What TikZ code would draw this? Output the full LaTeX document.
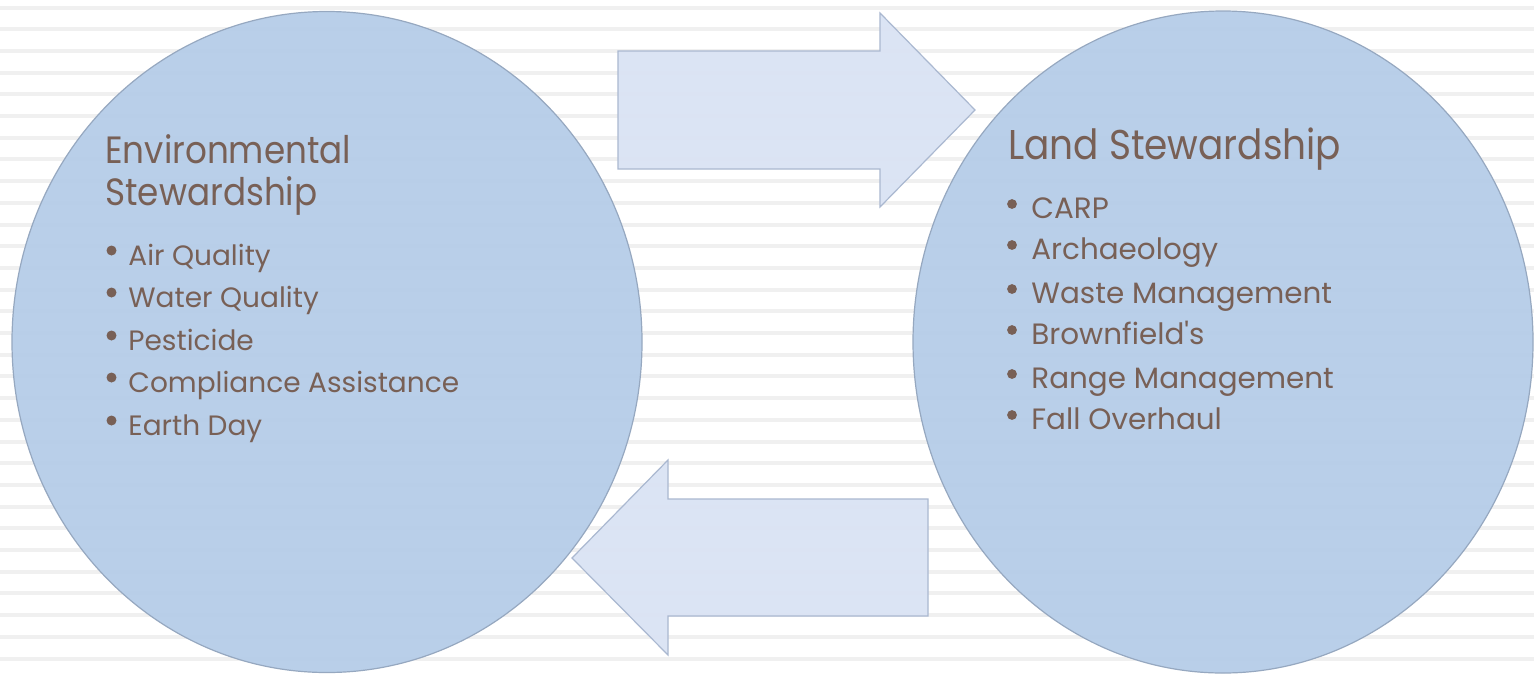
\documentclass[tikz,border=0pt]{standalone}
\usepackage{fontspec}
\setmainfont{Poppins}
\newfontfamily\headfont[FakeStretch=0.9]{Poppins}
\usetikzlibrary{shapes.geometric}
\definecolor{bgline}{RGB}{240,240,240}
\definecolor{circfill}{RGB}{180,204,232}
\definecolor{circdark}{RGB}{146,170,200}
\definecolor{circlight}{RGB}{206,226,248}
\definecolor{circedge}{RGB}{150,168,192}
\definecolor{arrfill}{RGB}{218,227,244}
\definecolor{arredge}{RGB}{170,184,208}
\definecolor{txt}{RGB}{120,96,86}
\pgfdeclareradialshading{rim}{\pgfpoint{0bp}{0bp}}{color(0bp)=(circfill); color(44bp)=(circfill); color(48.6bp)=(circdark); color(49.6bp)=(circlight); color(50bp)=(circlight)}
\tikzset{
  circ/.style={ellipse, inner sep=0pt, shade, shading=rim, draw=circedge, line width=0.6pt, fill opacity=0.93},
  blockarrow/.style={fill=arrfill, draw=arredge, line width=0.6pt, fill opacity=0.95, line join=miter},
  head/.style={anchor=base west, inner sep=0pt, text=txt},
  item/.style={anchor=base west, inner sep=0pt, text=txt},
  dot/.style={fill=txt},
}
\begin{document}
\begin{tikzpicture}[x=0.5pt,y=-0.5pt]
\useasboundingbox (0,0) rectangle (1534,675);
\fill[white] (0,0) rectangle (1534,675);
\foreach \i in {0,...,31} \fill[bgline] (0,{5.5+21.7*\i}) rectangle (1534,{9.5+21.7*\i});
% block arrows
\draw[blockarrow] (618,51) -- (880,51) -- (880,13) -- (975,110) -- (880,207) -- (880,169) -- (618,169) -- cycle;
\draw[blockarrow] (928,499) -- (668,499) -- (668,460) -- (572,558) -- (668,655) -- (668,616) -- (928,616) -- cycle;
% circles
\node[circ, minimum width=315pt, minimum height=330.5pt] (env) at (327,342) {};
\node[circ, minimum width=310pt, minimum height=331pt] (land) at (1223,342) {};
% left text
\begin{scope}[every node/.append style={font=\headfont\fontsize{19}{19}\selectfont}]
\node[head] (eh1) at (105,163) {Environmental};
\node[head] (eh2) at (105,205) {Stewardship};
\end{scope}
\begin{scope}[every node/.append style={font=\fontsize{14}{14}\selectfont}]
\node[item] (e1) at (128,265) {Air Quality};
\node[item] (e2) at (128,307) {Water Quality};
\node[item] (e3) at (128,350) {Pesticide};
\node[item] (e4) at (128,392) {Compliance Assistance};
\node[item] (e5) at (128,435) {Earth Day};
\end{scope}
\foreach \n in {e1,e2,e3,e4,e5}
  \fill[dot] ([shift={(-16.5,-14.5)}]\n.base west) circle (5);
% right text
\begin{scope}[every node/.append style={font=\headfont\fontsize{20.8}{20.8}\selectfont}]
\node[head] (lh) at (1008,159) {Land Stewardship};
\end{scope}
\begin{scope}[every node/.append style={font=\fontsize{14.7}{14.7}\selectfont}]
\node[item] (l1) at (1031,218) {CARP};
\node[item] (l2) at (1031,259) {Archaeology};
\node[item] (l3) at (1031,303) {Waste Management};
\node[item] (l4) at (1031,344) {Brownfield\textquotesingle s};
\node[item] (l5) at (1031,388) {Range Management};
\node[item] (l6) at (1031,429) {Fall Overhaul};
\end{scope}
\foreach \n in {l1,l2,l3,l4,l5,l6}
  \fill[dot] ([shift={(-19,-14)}]\n.base west) circle (4.9);
\end{tikzpicture}
\end{document}
